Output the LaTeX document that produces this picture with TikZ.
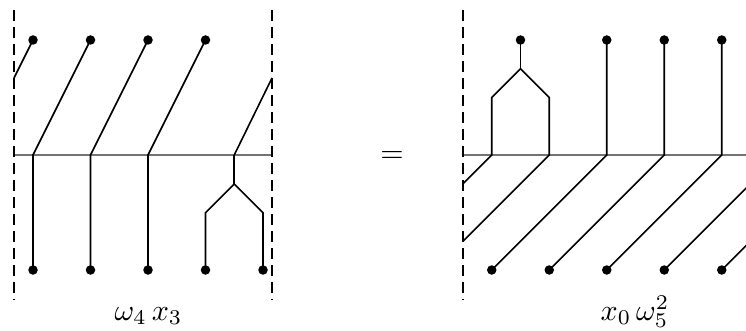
\documentclass[tikz,border=0pt]{standalone}
\usepackage{graphicx}
\usetikzlibrary{calc}
\begin{document}
\begin{tikzpicture}[x=1pt,y=-1pt,
  dotnode/.style={circle,fill=black,inner sep=0pt,minimum size=9.5pt},
  strand/.style={line width=1.6pt,line join=miter},
  axisline/.style={line width=1.3pt,black!55},
  wall/.style={line width=2.7pt,dash pattern=on 11pt off 6pt},
  lbl/.style={anchor=base,inner sep=0pt}]
\useasboundingbox (0,0) rectangle (746,331);
\begin{scope}
\clip (0,0) rectangle (746,331);
% ---------------- left panel ----------------
\coordinate (LT) at (14,10);  \coordinate (LB) at (14,300);
\coordinate (RT) at (272,10); \coordinate (RB) at (272,300);
\coordinate (LM) at (14,155); \coordinate (RM) at (272,155);
\draw[axisline] (LM) -- (RM);
% top dots
\node[dotnode] (t1) at (33,40) {};
\node[dotnode] (t2) at (90.5,40) {};
\node[dotnode] (t3) at (148,40) {};
\node[dotnode] (t4) at (205.5,40) {};
% bottom dots
\node[dotnode] (b1) at (33,270) {};
\node[dotnode] (b2) at (90.5,270) {};
\node[dotnode] (b3) at (148,270) {};
\node[dotnode] (b4) at (205.5,270) {};
\node[dotnode] (b5) at (263,270) {};
% junctions on axis
\coordinate (m1) at (33,155);
\coordinate (m2) at (90.5,155);
\coordinate (m3) at (148,155);
\coordinate (m4) at (234.25,155);
\coordinate (s4) at (234.25,184);
\coordinate (p4) at (205.5,212.75);
\coordinate (q4) at (263,212.75);
\coordinate (wl) at (14,78);
\coordinate (wr) at (272,78);
\draw[strand] (t1.center) -- (wl);
\draw[strand] (wr) -- (m4);
\draw[strand] (t2.center) -- (m1) -- (b1.center);
\draw[strand] (t3.center) -- (m2) -- (b2.center);
\draw[strand] (t4.center) -- (m3) -- (b3.center);
\draw[strand] (m4) -- (s4);
\draw[strand] (s4) -- (p4) -- (b4.center);
\draw[strand] (s4) -- (q4) -- (b5.center);
\draw[wall] (LT) -- (LB);
\draw[wall] (RT) -- (RB);
% ---------------- right panel ----------------
\coordinate (L2T) at (463,10); \coordinate (L2B) at (463,300);
\coordinate (L2M) at (463,155); \coordinate (R2M) at (746,155);
\draw[axisline] (L2M) -- (R2M);
\node[dotnode] (u1) at (520.5,40) {};
\node[dotnode] (u2) at (606.75,40) {};
\node[dotnode] (u3) at (664.25,40) {};
\node[dotnode] (u4) at (721.75,40) {};
\node[dotnode] (d1) at (491.75,270) {};
\node[dotnode] (d2) at (549.25,270) {};
\node[dotnode] (d3) at (606.75,270) {};
\node[dotnode] (d4) at (664.25,270) {};
\node[dotnode] (d5) at (721.75,270) {};
\coordinate (s1) at (520.5,68.75);
\coordinate (a1) at (491.75,97.5);
\coordinate (c1) at (549.25,97.5);
\coordinate (n1) at (491.75,155);
\coordinate (n2) at (549.25,155);
\coordinate (n3) at (606.75,155);
\coordinate (n4) at (664.25,155);
\coordinate (n5) at (721.75,155);
\coordinate (n6) at (779.25,155);
\coordinate (n7) at (836.75,155);
\coordinate (e1) at (463,183.75);
\coordinate (e2) at (463,241.25);
\draw[strand] (u1.center) -- (s1);
\draw[strand] (s1) -- (a1) -- (n1) -- (e1);
\draw[strand] (s1) -- (c1) -- (n2) -- (e2);
\draw[strand] (u2.center) -- (n3) -- (d1.center);
\draw[strand] (u3.center) -- (n4) -- (d2.center);
\draw[strand] (u4.center) -- (n5) -- (d3.center);
\draw[strand] (n6) -- (d4.center);
\draw[strand] (n7) -- (d5.center);
\draw[wall] (L2T) -- (L2B);
\end{scope}
% ---------------- labels ----------------
\node[lbl] (lab1) at (148.5,320) {\scalebox{3}{$\omega_4\,x_3$}};
\node[lbl] (eq) at (392,162.5) {\scalebox{3}{$=$}};
\node[lbl] (lab2) at (635,320) {\scalebox{3}{$x_0\,\omega_5^2$}};
\end{tikzpicture}
\end{document}
